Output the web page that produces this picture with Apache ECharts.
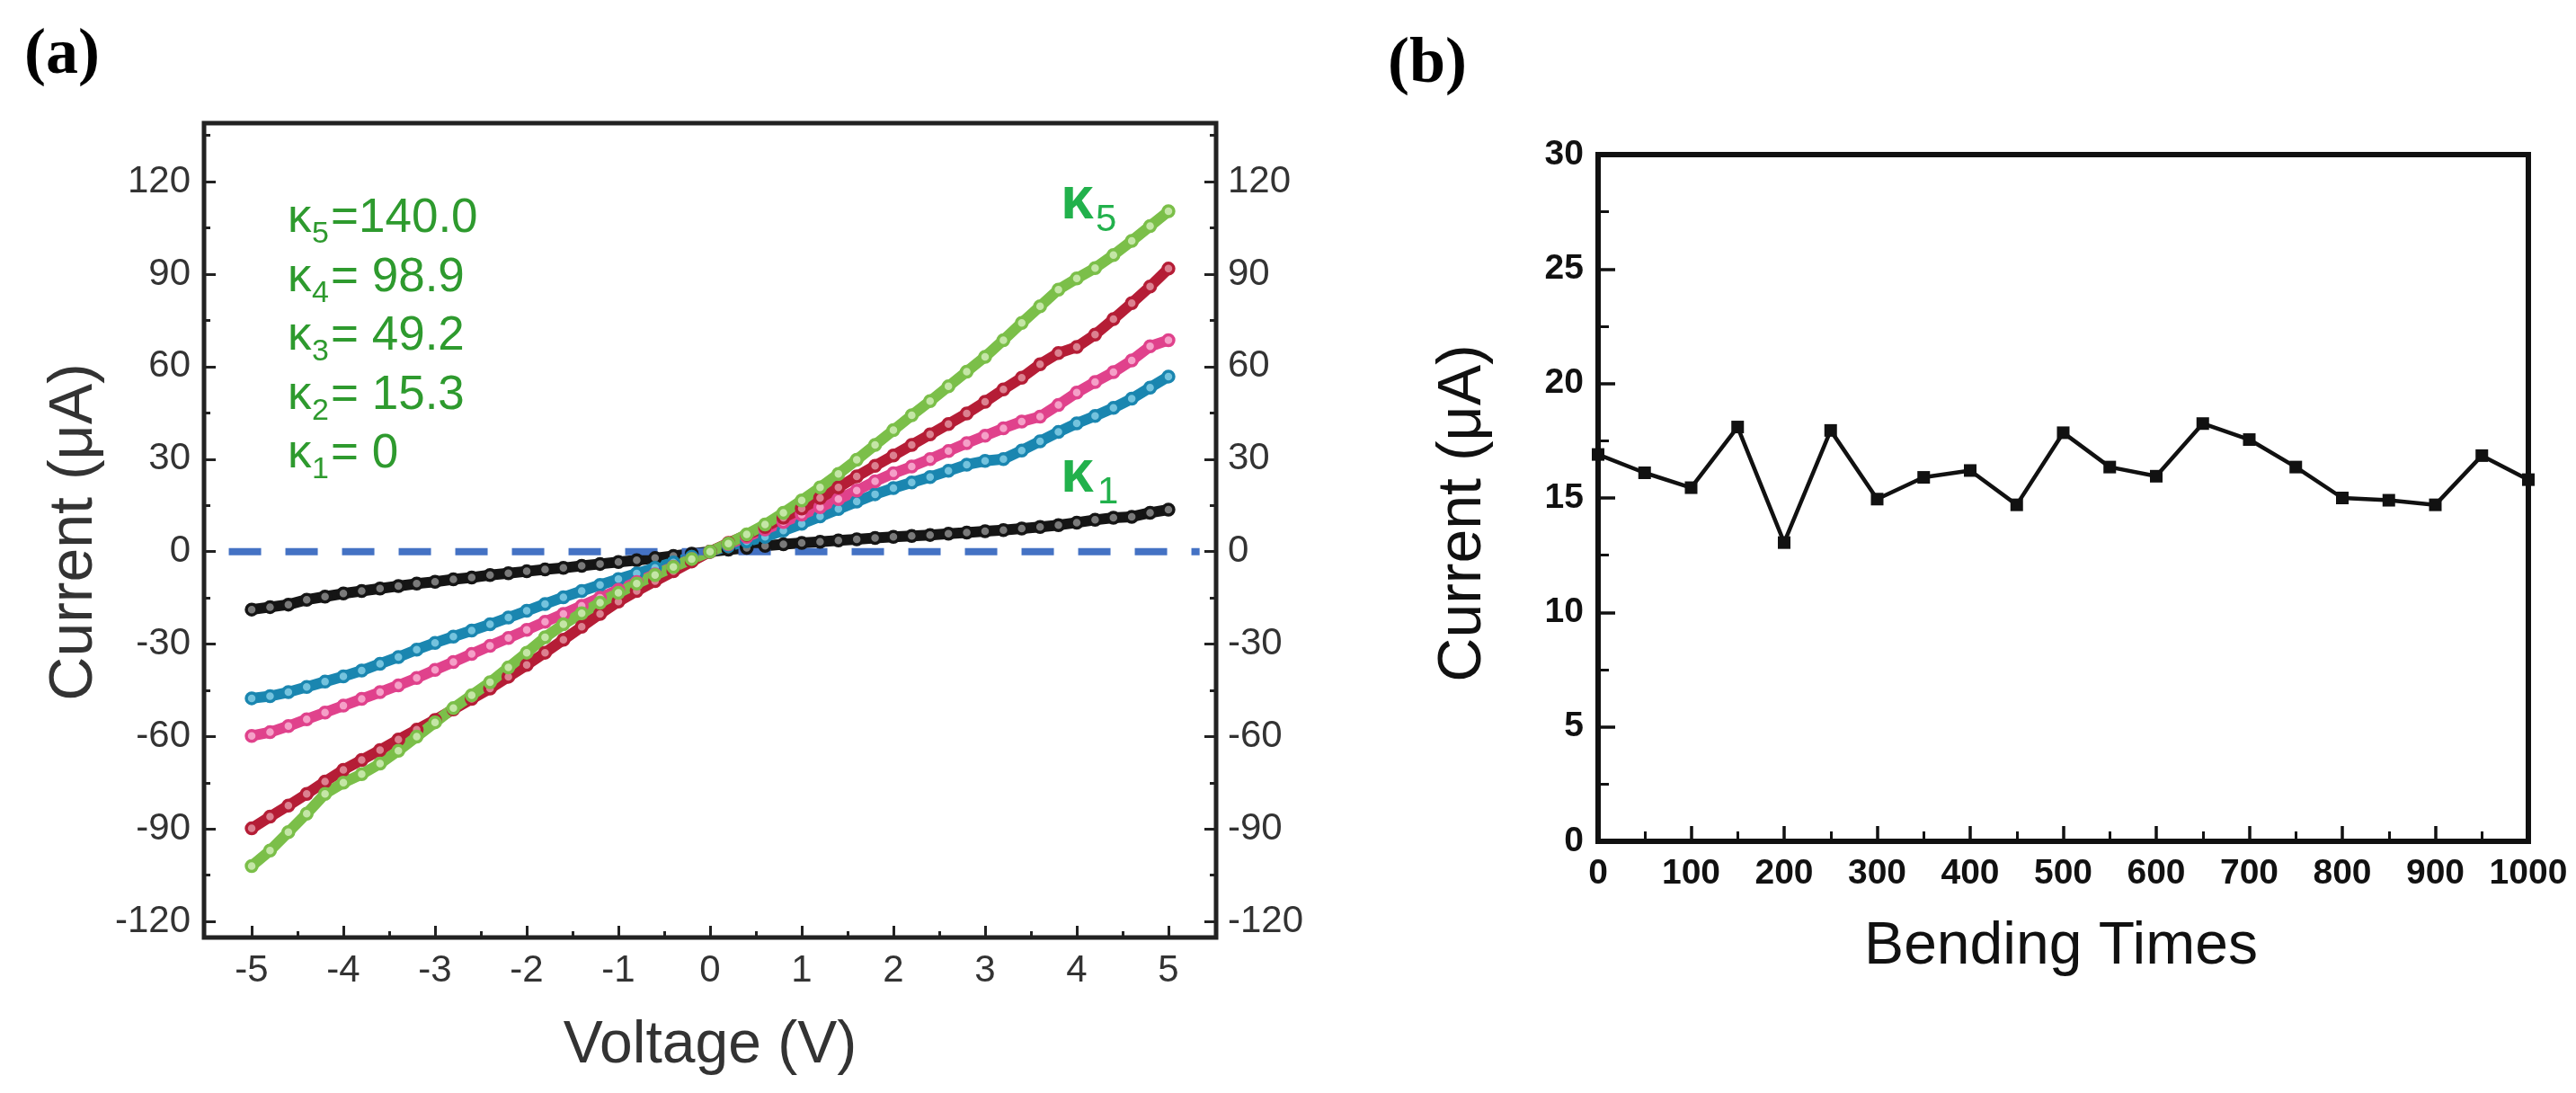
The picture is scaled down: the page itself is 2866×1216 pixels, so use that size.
<!DOCTYPE html>
<html lang="en">

<head>
    <meta charset="UTF-8">
    <title>I-V curves and bending test</title>
    <script type="text/javascript" src="https://cdn.jsdelivr.net/npm/echarts@6/dist/echarts.min.js" charset="UTF-8"></script>
    <style>
        html, body { margin: 0; padding: 0; background: #fff; }
    </style>
</head>

<body>
    <div id="main" style="width:2866px;height:1216px;"></div>
    <script type="text/javascript" charset="UTF-8">

        // ---- panel (a): I-V curves ----
        const voltage = [
            -5.0, -4.8, -4.6, -4.4, -4.2, -4.0, -3.8, -3.6, -3.4, -3.2,
            -3.0, -2.8, -2.6, -2.4, -2.2, -2.0, -1.8, -1.6, -1.4, -1.2,
            -1.0, -0.8, -0.6, -0.4, -0.2, 0.0, 0.2, 0.4, 0.6, 0.8,
            1.0, 1.2, 1.4, 1.6, 1.8, 2.0, 2.2, 2.4, 2.6, 2.8,
            3.0, 3.2, 3.4, 3.6, 3.8, 4.0, 4.2, 4.4, 4.6, 4.8,
            5.0
        ]
        // κ1 = 0 (black)
        const currentK1 = [
            -18.8, -18.0, -17.2, -15.6, -14.6, -13.6, -12.8, -12.0, -11.2, -10.4,
            -9.8, -9.0, -8.4, -7.6, -7.0, -6.4, -5.8, -5.3, -4.6, -4.0,
            -3.4, -2.8, -2.1, -1.4, -0.7, 0.0, 0.6, 1.2, 1.9, 2.4,
            2.8, 3.2, 3.6, 4.0, 4.4, 4.8, 5.1, 5.4, 5.8, 6.2,
            6.6, 7.0, 7.5, 8.0, 8.6, 9.4, 10.3, 11.0, 11.3, 12.6,
            13.6
        ]
        // κ2 = 15.3 (blue)
        const currentK2 = [
            -47.6, -46.9, -45.6, -43.9, -42.2, -40.5, -38.6, -36.4, -34.2, -31.8,
            -29.6, -27.6, -25.6, -23.6, -21.4, -19.2, -17.0, -14.8, -12.8, -10.8,
            -8.9, -7.1, -5.3, -3.5, -1.7, 0.0, 1.8, 3.3, 4.8, 6.8,
            9.0, 11.4, 13.8, 16.2, 18.6, 20.6, 22.4, 24.2, 26.2, 28.2,
            29.4, 30.0, 32.8, 35.8, 38.8, 41.6, 44.0, 46.6, 49.6, 53.2,
            56.8
        ]
        // κ3 = 49.2 (pink)
        const currentK3 = [
            -59.8, -58.6, -56.6, -54.4, -52.2, -50.0, -47.8, -45.6, -43.4, -41.0,
            -38.4, -35.8, -33.2, -30.6, -28.0, -25.4, -22.8, -20.2, -17.6, -15.0,
            -12.4, -9.9, -7.4, -4.9, -2.4, 0.0, 2.4, 4.8, 7.2, 9.6,
            12.0, 14.4, 17.0, 19.8, 22.8, 25.4, 27.6, 30.0, 32.6, 35.2,
            37.6, 40.0, 42.2, 43.8, 47.6, 51.6, 55.0, 58.2, 62.0, 66.6,
            68.6
        ]
        // κ4 = 98.9 (dark red)
        const currentK4 = [
            -89.8, -86.0, -82.4, -78.6, -74.6, -70.8, -67.6, -64.4, -61.0, -57.8,
            -54.6, -51.2, -47.8, -44.4, -40.6, -36.8, -32.8, -28.6, -24.4, -20.2,
            -16.2, -12.8, -9.6, -6.4, -3.2, 0.0, 2.8, 5.4, 8.0, 11.0,
            14.0, 17.4, 20.8, 24.4, 27.8, 31.2, 34.6, 38.0, 41.4, 44.8,
            48.6, 52.6, 56.4, 60.8, 64.4, 66.4, 70.4, 75.4, 80.6, 86.0,
            91.8
        ]
        // κ5 = 140.0 (green)
        const currentK5 = [
            -102.0, -97.0, -91.0, -85.0, -78.6, -75.0, -72.2, -68.8, -64.6, -60.0,
            -55.4, -50.8, -46.6, -42.4, -37.6, -32.8, -27.8, -23.6, -20.0, -16.6,
            -13.4, -10.4, -7.6, -5.0, -2.4, 0.0, 2.6, 5.6, 8.8, 12.6,
            16.6, 20.8, 25.2, 29.8, 34.6, 39.4, 44.2, 48.8, 53.6, 58.4,
            63.2, 68.6, 74.2, 79.6, 85.0, 88.6, 92.0, 96.2, 100.8, 105.6,
            110.4
        ]
        const zeroLine = [[-5.25, 0], [5.34, 0]]

        const voltTicks = [-5, -4, -3, -2, -1, 0, 1, 2, 3, 4, 5]
        const voltMinor = [-4.5, -3.5, -2.5, -1.5, -0.5, 0.5, 1.5, 2.5, 3.5, 4.5]
        const currTicks = [-120, -90, -60, -30, 0, 30, 60, 90, 120]
        const currMinor = [-105, -75, -45, -15, 15, 45, 75, 105, 135]

        const kappaNames = ['5', '4', '3', '2', '1']
        const kappaValues = ['=140.0', '= 98.9', '= 49.2', '= 15.3', '= 0']

        // ---- panel (b): bending test ----
        const bendTimes = [0, 50, 100, 150, 200, 250, 300, 350, 400, 450, 500,
            550, 600, 650, 700, 750, 800, 850, 900, 950, 1000]
        const bendCurrent = [16.9, 16.1, 15.45, 18.1, 13.05, 17.95, 14.95, 15.9, 16.2, 14.7, 17.85,
            16.35, 15.95, 18.25, 17.55, 16.35, 15.0, 14.9, 14.7, 16.85, 15.8]

        const FONT = 'Liberation Sans, Arial, sans-serif'
        const SERIF = 'Liberation Serif, Times New Roman, serif'

        let myChart = echarts.init(document.getElementById('main'), null, { renderer: 'canvas' })

        function pairs(xs, ys) {
            return xs.map((x, i) => [x, ys[i]])
        }

        function plain(v) {
            return String(v)
        }

        function ivSeries(values, main, light) {
            return {
                type: 'line',
                xAxisIndex: 0,
                yAxisIndex: 0,
                data: pairs(voltage, values),
                symbol: 'circle',
                symbolSize: 12,
                showAllSymbol: true,
                lineStyle: { color: main, width: 12 },
                itemStyle: { color: light, borderColor: main, borderWidth: 3.5 },
                emphasis: { disabled: true },
                silent: true
            }
        }

        // axis helpers for panel (a)
        function voltAxis(minor) {
            return {
                gridIndex: 0, type: 'value', min: -5.52, max: 5.52, position: 'bottom',
                axisLine: { show: false, onZero: false },
                splitLine: { show: false },
                axisTick: {
                    show: true, inside: true, length: minor ? 7 : 13,
                    lineStyle: { color: '#222', width: 3 },
                    customValues: minor ? voltMinor : voltTicks
                },
                axisLabel: minor ? { show: false } : {
                    customValues: voltTicks, margin: 16, fontSize: 42,
                    color: '#333', fontFamily: FONT, formatter: plain
                }
            }
        }

        function currAxis(pos, minor) {
            return {
                gridIndex: 0, type: 'value', min: -125.2, max: 139, position: pos,
                axisLine: { show: false, onZero: false },
                splitLine: { show: false },
                axisTick: {
                    show: true, inside: true, length: minor ? 7 : 13,
                    lineStyle: { color: '#222', width: 3 },
                    customValues: minor ? currMinor : currTicks
                },
                axisLabel: minor ? { show: false } : {
                    customValues: currTicks, margin: pos === 'left' ? 15 : 13, fontSize: 42,
                    color: '#333', fontFamily: FONT, formatter: plain
                }
            }
        }

        // text annotations (kappa list + curve tags + axis names + panel tags)
        let graphics = []
        for (let i = 0; i < kappaNames.length; i++) {
            let y = 243.5 + 65.5 * i
            graphics.push({ type: 'text', x: 320, y: y, style: { text: 'κ', fontSize: 53, fontFamily: FONT, fill: '#2e9a2e', textVerticalAlign: 'middle' } })
            graphics.push({ type: 'text', x: 347, y: y + 17.5, style: { text: kappaNames[i], fontSize: 34, fontFamily: FONT, fill: '#2e9a2e', textVerticalAlign: 'middle' } })
            graphics.push({ type: 'text', x: 368, y: y, style: { text: kappaValues[i], fontSize: 53, fontFamily: FONT, fill: '#2e9a2e', textVerticalAlign: 'middle' } })
        }
        graphics.push(
            { type: 'text', x: 1180, y: 225, style: { text: 'κ', fontSize: 66, fontWeight: 'bold', fontFamily: FONT, fill: '#22b14c', textVerticalAlign: 'middle' } },
            { type: 'text', x: 1219, y: 245, style: { text: '5', fontSize: 42, fontFamily: FONT, fill: '#22b14c', textVerticalAlign: 'middle' } },
            { type: 'text', x: 1180, y: 529, style: { text: 'κ', fontSize: 66, fontWeight: 'bold', fontFamily: FONT, fill: '#22b14c', textVerticalAlign: 'middle' } },
            { type: 'text', x: 1221, y: 548, style: { text: '1', fontSize: 42, fontFamily: FONT, fill: '#22b14c', textVerticalAlign: 'middle' } },
            { type: 'text', x: 83, y: 592, rotation: Math.PI / 2, style: { text: 'Current (μA)', fontSize: 68, fontFamily: FONT, fill: '#333', textAlign: 'center', textVerticalAlign: 'middle' } },
            { type: 'text', x: 790, y: 1164, style: { text: 'Voltage (V)', fontSize: 66, fontFamily: FONT, fill: '#333', textAlign: 'center', textVerticalAlign: 'middle' } },
            { type: 'text', x: 1628, y: 571, rotation: Math.PI / 2, style: { text: 'Current (μA)', fontSize: 68, fontFamily: FONT, fill: '#111', textAlign: 'center', textVerticalAlign: 'middle' } },
            { type: 'text', x: 2293, y: 1054, style: { text: 'Bending Times', fontSize: 66, fontFamily: FONT, fill: '#111', textAlign: 'center', textVerticalAlign: 'middle' } },
            { type: 'text', x: 27, y: 62, style: { text: '(a)', fontSize: 72, fontWeight: 'bold', fontFamily: SERIF, fill: '#000', textVerticalAlign: 'middle' } },
            { type: 'text', x: 1544, y: 72, style: { text: '(b)', fontSize: 72, fontWeight: 'bold', fontFamily: SERIF, fill: '#000', textVerticalAlign: 'middle' } }
        )

        let option = {
            animation: false,
            backgroundColor: '#fff',
            grid: [
                { left: 227, top: 137, width: 1126, height: 906, show: true, borderColor: '#222', borderWidth: 5, backgroundColor: 'transparent' },
                { left: 1778, top: 172, width: 1035, height: 764, show: true, borderColor: '#111', borderWidth: 6, backgroundColor: 'transparent' }
            ],
            xAxis: [
                voltAxis(false),
                voltAxis(true),
                {
                    gridIndex: 1, type: 'value', min: 0, max: 1000, interval: 100,
                    axisLine: { show: false, onZero: false },
                    splitLine: { show: false },
                    axisTick: { show: true, inside: true, length: 17, lineStyle: { color: '#111', width: 3.5 } },
                    minorTick: { show: true, splitNumber: 2, length: 11, lineStyle: { color: '#111', width: 3 } },
                    minorSplitLine: { show: false },
                    axisLabel: { margin: 17, fontSize: 39, fontWeight: 'bold', color: '#111', fontFamily: FONT, formatter: plain, showMinLabel: true, showMaxLabel: true }
                }
            ],
            yAxis: [
                currAxis('left', false),
                currAxis('left', true),
                currAxis('right', false),
                currAxis('right', true),
                {
                    gridIndex: 1, type: 'value', min: 0, max: 30, interval: 5,
                    axisLine: { show: false, onZero: false },
                    splitLine: { show: false },
                    axisTick: { show: true, inside: true, length: 19, lineStyle: { color: '#111', width: 3.5 } },
                    minorTick: { show: true, splitNumber: 2, length: 12, lineStyle: { color: '#111', width: 3 } },
                    minorSplitLine: { show: false },
                    axisLabel: { margin: 16, fontSize: 39, fontWeight: 'bold', color: '#111', fontFamily: FONT, formatter: plain, showMinLabel: true, showMaxLabel: true }
                }
            ],
            series: [
                ivSeries(currentK1, '#151515', '#7a7a7a'),
                ivSeries(currentK2, '#1a86b0', '#74c3de'),
                ivSeries(currentK3, '#e0428c', '#f5a0c8'),
                ivSeries(currentK4, '#b51d36', '#dc8190'),
                ivSeries(currentK5, '#7bbf49', '#c4e6a6'),
                {
                    type: 'line', xAxisIndex: 0, yAxisIndex: 0,
                    data: zeroLine, symbol: 'none', silent: true,
                    lineStyle: { color: '#4472c4', width: 8, type: [36, 27] }
                },
                {
                    type: 'line', xAxisIndex: 2, yAxisIndex: 4,
                    data: pairs(bendTimes, bendCurrent),
                    symbol: 'rect', symbolSize: 14, silent: true,
                    lineStyle: { color: '#111', width: 4.5 },
                    itemStyle: { color: '#111' }
                }
            ],
            graphic: graphics
        }

        myChart.setOption(option)
    </script>
</body>

</html>
